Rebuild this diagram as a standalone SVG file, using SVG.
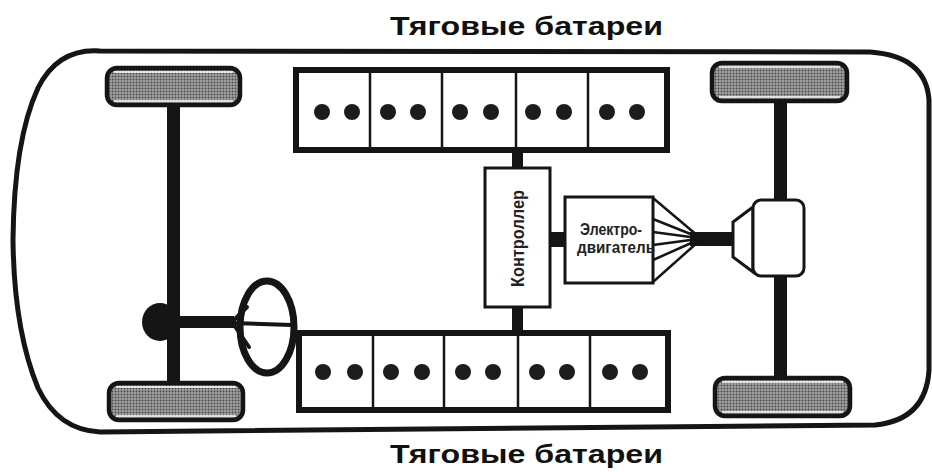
<svg xmlns="http://www.w3.org/2000/svg" width="932" height="472" viewBox="0 0 932 472">
  <style>
    .title { font-family: "Liberation Sans", Arial, sans-serif; font-weight: bold; font-size: 25px; fill: #111; }
    .label { font-family: "Liberation Sans", Arial, sans-serif; font-weight: bold; fill: #222; }
    .body { fill: none; stroke: #151515; stroke-width: 5; stroke-linejoin: round; }
    .pack { fill: #fff; stroke: #151515; stroke-width: 6; }
    .cellwall { stroke: #151515; stroke-width: 2.5; }
    .dot { fill: #1c1c1c; }
    .box { fill: #fff; stroke: #151515; stroke-width: 3; }
    .tyre { fill: url(#halftone); stroke: #151515; stroke-width: 4.5; }
    .tyreline { stroke: #fff; stroke-width: 1.5; }
    .shaft { fill: #151515; }
    .wire { stroke: #151515; stroke-width: 2.5; fill: none; }
    .spoke { stroke: #151515; stroke-width: 4; fill: none; stroke-linecap: round; }
  </style>
  <defs>
    <pattern id="halftone" width="3" height="3" patternUnits="userSpaceOnUse">
      <rect width="3" height="3" fill="#a2a2a2"/>
      <circle cx="1.5" cy="1.5" r="1" fill="#4a4a4a"/>
    </pattern>
  </defs>

  <rect width="932" height="472" fill="#fff"/>

  <!-- titles -->
  <text class="title" x="390" y="35" textLength="273" lengthAdjust="spacingAndGlyphs">Тяговые батареи</text>
  <text class="title" x="390" y="463" textLength="273" lengthAdjust="spacingAndGlyphs">Тяговые батареи</text>

  <!-- car body outline -->
  <g id="body">
    <path class="body" d="M 100,51 Q 58,48 38,88 Q 14,140 13,240 Q 14,330 38,388 Q 58,430 100,432 L 875,425 Q 926,420 929,370 L 929,100 Q 926,56 870,52 Z"/>
  </g>

  <!-- axles, cables and shafts -->
  <g id="connectors">
    <rect class="shaft" x="167" y="100" width="13" height="286"/>
    <rect class="shaft" x="774" y="98" width="13" height="104"/>
    <rect class="shaft" x="774" y="273" width="13" height="108"/>
    <rect class="shaft" x="512" y="148" width="11" height="22"/>
    <rect class="shaft" x="512" y="305" width="11" height="30"/>
    <rect class="shaft" x="549" y="232" width="17" height="15"/>
    <rect class="shaft" x="690" y="232" width="45" height="14"/>
    <g class="wire">
      <line x1="653" y1="198" x2="698" y2="236"/>
      <line x1="653" y1="219" x2="698" y2="237"/>
      <line x1="653" y1="232" x2="698" y2="238"/>
      <line x1="653" y1="245" x2="698" y2="239"/>
      <line x1="653" y1="260" x2="698" y2="240"/>
      <line x1="653" y1="282" x2="698" y2="242"/>
    </g>
  </g>

  <!-- wheels -->
  <g id="wheel-front-left">
    <rect class="tyre" x="107" y="68" width="133" height="37" rx="10"/>
    <line class="tyreline" x1="114" y1="72" x2="233" y2="72"/>
    <line class="tyreline" x1="114" y1="101" x2="233" y2="101"/>
  </g>
  <g id="wheel-front-right">
    <rect class="tyre" x="109" y="383" width="134" height="37" rx="10"/>
    <line class="tyreline" x1="116" y1="387" x2="236" y2="387"/>
    <line class="tyreline" x1="116" y1="416" x2="236" y2="416"/>
  </g>
  <g id="wheel-rear-left">
    <rect class="tyre" x="712" y="63" width="135" height="38" rx="10"/>
    <line class="tyreline" x1="719" y1="67" x2="840" y2="67"/>
    <line class="tyreline" x1="719" y1="97" x2="840" y2="97"/>
  </g>
  <g id="wheel-rear-right">
    <rect class="tyre" x="715" y="378" width="135" height="38" rx="10"/>
    <line class="tyreline" x1="722" y1="382" x2="843" y2="382"/>
    <line class="tyreline" x1="722" y1="412" x2="843" y2="412"/>
  </g>

  <!-- steering column and wheel -->
  <g id="steering">
    <ellipse cx="160" cy="322" rx="18" ry="19" fill="#151515"/>
    <rect class="shaft" x="170" y="316" width="64" height="12"/>
    <ellipse cx="267" cy="327" rx="27" ry="46" fill="none" stroke="#151515" stroke-width="7"/>
    <line class="spoke" x1="232" y1="322" x2="247" y2="307"/>
    <line class="spoke" x1="232" y1="322" x2="249" y2="347"/>
    <line class="spoke" x1="232" y1="323" x2="292" y2="325"/>
  </g>

  <!-- upper battery pack -->
  <g id="battery-top">
    <rect class="pack" x="296" y="70" width="371" height="80"/>
    <line class="cellwall" x1="370" y1="73" x2="370" y2="147"/>
    <line class="cellwall" x1="442" y1="73" x2="442" y2="147"/>
    <line class="cellwall" x1="516" y1="73" x2="516" y2="147"/>
    <line class="cellwall" x1="588" y1="73" x2="588" y2="147"/>
    <circle class="dot" cx="322" cy="112" r="8"/>
    <circle class="dot" cx="352" cy="112" r="8"/>
    <circle class="dot" cx="388" cy="112" r="8"/>
    <circle class="dot" cx="418" cy="112" r="8"/>
    <circle class="dot" cx="460" cy="112" r="8"/>
    <circle class="dot" cx="491" cy="112" r="8"/>
    <circle class="dot" cx="533" cy="112" r="8"/>
    <circle class="dot" cx="564" cy="112" r="8"/>
    <circle class="dot" cx="607" cy="112" r="8"/>
    <circle class="dot" cx="637" cy="112" r="8"/>
  </g>

  <!-- lower battery pack -->
  <g id="battery-bottom">
    <rect class="pack" x="299" y="333" width="369" height="77"/>
    <line class="cellwall" x1="373" y1="336" x2="373" y2="407"/>
    <line class="cellwall" x1="444" y1="336" x2="444" y2="407"/>
    <line class="cellwall" x1="518" y1="336" x2="518" y2="407"/>
    <line class="cellwall" x1="590" y1="336" x2="590" y2="407"/>
    <circle class="dot" cx="323" cy="372" r="8"/>
    <circle class="dot" cx="355" cy="372" r="8"/>
    <circle class="dot" cx="391" cy="372" r="8"/>
    <circle class="dot" cx="422" cy="372" r="8"/>
    <circle class="dot" cx="463" cy="372" r="8"/>
    <circle class="dot" cx="493" cy="372" r="8"/>
    <circle class="dot" cx="537" cy="372" r="8"/>
    <circle class="dot" cx="567" cy="372" r="8"/>
    <circle class="dot" cx="610" cy="372" r="8"/>
    <circle class="dot" cx="640" cy="372" r="8"/>
  </g>

  <!-- controller -->
  <g id="controller">
    <rect class="box" x="485" y="168" width="65" height="139"/>
    <text class="label" font-size="18" transform="translate(524,287) rotate(-90)" textLength="97" lengthAdjust="spacingAndGlyphs">Контроллер</text>
  </g>

  <!-- traction motor -->
  <g id="motor">
    <rect class="box" x="565" y="197" width="88" height="86"/>
    <text class="label" font-size="17" x="580" y="235" textLength="62" lengthAdjust="spacingAndGlyphs">Электро-</text>
    <text class="label" font-size="17" x="577" y="253" textLength="78" lengthAdjust="spacingAndGlyphs">двигатель</text>
  </g>

  <!-- final drive / differential -->
  <g id="differential">
    <path class="box" d="M 753,207 L 733,222 L 733,257 L 753,272 Z"/>
    <rect class="box" x="753" y="200" width="51" height="76" rx="8"/>
  </g>
</svg>
